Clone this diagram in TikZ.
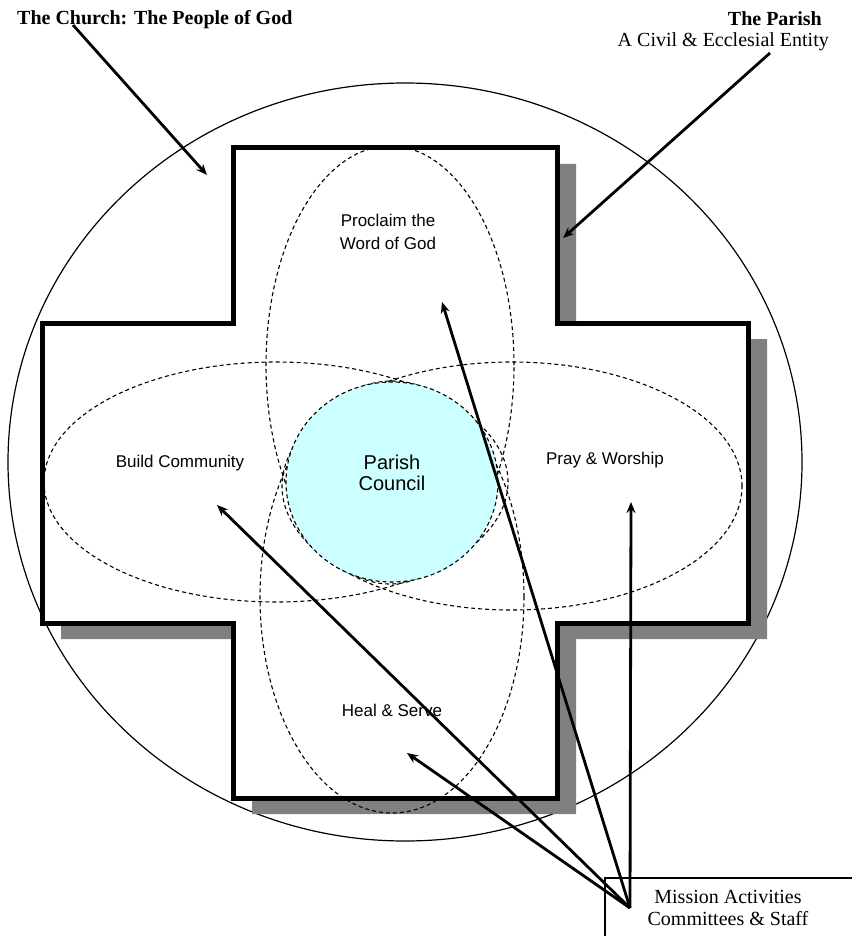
\documentclass[tikz,border=0pt]{standalone}
\usepackage{fontspec}
\setmainfont{Liberation Serif}
\newfontfamily\labelfont{Liberation Sans}
\usetikzlibrary{arrows.meta}
\definecolor{councilcyan}{HTML}{CCFFFF}
\definecolor{shadowgray}{HTML}{808080}
\tikzset{
  outerline/.style={draw=black, line width=1.2pt},
  crossline/.style={draw=black, line width=5pt, fill=white, line join=miter},
  zone/.style={draw=black, line width=1.1pt, dash pattern=on 4pt off 3pt},
  pointer/.style={draw=black, line width=2.8pt, -{Stealth[length=11pt,width=9pt]}},
  zonelabel/.style={font=\labelfont\fontsize{17}{23}\selectfont, align=center, inner sep=0pt},
  councillabel/.style={font=\labelfont\fontsize{20}{21}\selectfont, align=center, inner sep=0pt},
  titletext/.style={font=\bfseries\fontsize{20}{22}\selectfont, inner sep=0pt},
  plaintext/.style={font=\fontsize{20}{22}\selectfont, inner sep=0pt},
}
\begin{document}
\begin{tikzpicture}[x=1pt, y=-1pt]
  \useasboundingbox (0,0) rectangle (852,936);

  % the church as a whole
  \draw[outerline] (405,462) ellipse [x radius=397pt, y radius=379pt];

  % cross-shaped parish with its drop shadow
  \def\crosspath{(233,148) -- (557,148) -- (557,323) -- (748,323) -- (748,623) -- (557,623)
    -- (557,798) -- (233,798) -- (233,623) -- (42,623) -- (42,323) -- (233,323) -- cycle}
  \fill[shadowgray, shift={(19pt,-16pt)}] \crosspath;
  \path[crossline] \crosspath;

  % the four mission areas
  \draw[zone] (390,365) ellipse [x radius=124pt, y radius=219pt];
  \draw[zone] (392,597) ellipse [x radius=132pt, y radius=216pt];
  \draw[zone] (276,482) ellipse [x radius=232pt, y radius=120pt];
  \draw[zone] (512,486) ellipse [x radius=230pt, y radius=124pt];

  % the parish council at the centre
  \draw[zone, fill=councilcyan] (392,482) ellipse [x radius=106pt, y radius=100pt];
  \node[councillabel] (council) at (392,473) {Parish\\Council};

  % area labels
  \node[zonelabel] (proclaim) at (388,232) {Proclaim the\\Word of God};
  \node[zonelabel] (build) at (180,463) {Build Community};
  \node[zonelabel] (pray) at (605,460) {Pray \& Worship};
  \node[zonelabel] (heal) at (392,710) {Heal \& Serve};

  % headings
  \node[titletext, anchor=base west] (church) at (17,25) {The Church: The People of God};
  \node[titletext, anchor=base east] (parish) at (822,26) {The Parish};
  \node[plaintext, anchor=base east] (entity) at (829,47) {A Civil \& Ecclesial Entity};

  % mission box in the lower right corner
  \draw[line width=1.4pt] (605,936) -- (605,878) -- (852,878);
  \node[plaintext, anchor=base] (mission) at (728,903) {Mission Activities};
  \node[plaintext, anchor=base] (staff) at (728,925) {Committees \& Staff};

  % arrow ends
  \coordinate (churchfrom) at (73,25);
  \coordinate (churchto) at (207,175);
  \coordinate (parishfrom) at (770,53);
  \coordinate (parishto) at (563,238);
  \coordinate (hub) at (630,908);
  \coordinate (proclaimto) at (442,302);
  \coordinate (buildto) at (217,505);
  \coordinate (prayto) at (631,502);
  \coordinate (healto) at (407,753);

  \draw[pointer] (churchfrom) -- (churchto);
  \draw[pointer] (parishfrom) -- (parishto);
  \draw[pointer] (hub) -- (proclaimto);
  \draw[pointer] (hub) -- (buildto);
  \draw[pointer] (hub) -- (prayto);
  \draw[pointer] (hub) -- (healto);
\end{tikzpicture}
\end{document}
